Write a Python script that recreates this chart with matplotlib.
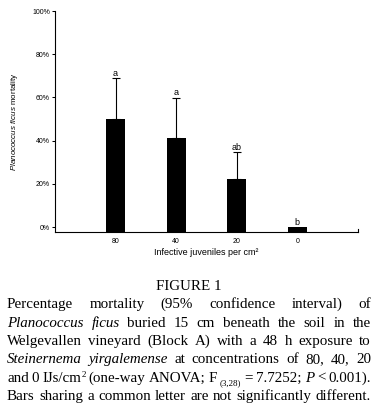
import matplotlib
matplotlib.use("Agg")
import matplotlib.pyplot as plt
from matplotlib.transforms import IdentityTransform

# ---- data ----
categories = ["80", "40", "20", "0"]
mortality = [50.0, 41.0, 22.2, 0.0]
ci_upper = [18.8, 18.9, 12.4, 0.0]
letters = ["a", "a", "ab", "b"]
yticks = [0, 20, 40, 60, 80, 100]
ytick_labels = ["0%", "20%", "40%", "60%", "80%", "100%"]

W, H, DPI = 381, 407, 100
plt.rcParams["font.family"] = ["Liberation Sans", "DejaVu Sans"]
plt.rcParams["mathtext.fontset"] = "custom"
plt.rcParams["mathtext.rm"] = "Liberation Sans"
plt.rcParams["mathtext.it"] = "Liberation Sans:italic"

fig = plt.figure(figsize=(W / DPI, H / DPI), dpi=DPI)
ax = fig.add_axes([55 / W, 1 - 232 / H, (358 - 55) / W, (232 - 11) / H])

ymin = -2.3
x = list(range(len(categories)))
heights = [m - ymin for m in mortality]
ax.bar(x, heights, bottom=ymin, width=0.31, color="black", zorder=2)
ax.errorbar(x[:3], mortality[:3], yerr=[[0] * 3, ci_upper[:3]], fmt="none",
            ecolor="black", elinewidth=0.8, capsize=2.6, capthick=0.8, zorder=3)
for xi, m, e, l in zip(x, mortality, ci_upper, letters):
    ax.annotate(l, (xi, m + e), xytext=(0, 1.6), textcoords="offset points",
                ha="center", va="baseline", fontsize=6.5)

ax.set_xlim(-1, 4)
ax.set_ylim(ymin, 100)
ax.set_yticks(yticks)
ax.set_yticklabels(ytick_labels, fontsize=5)
ax.set_xticks(x)
ax.set_xticklabels(categories, fontsize=5)
ax.tick_params(axis="y", length=2.2, width=0.75, pad=1.5, direction="out")
ax.tick_params(axis="x", length=0, pad=4.3)
for s in ["top", "right"]:
    ax.spines[s].set_visible(False)
for s in ["left", "bottom"]:
    ax.spines[s].set_linewidth(0.8)
ax.plot([1, 1], [0, 0.014], transform=ax.transAxes, color="black", lw=0.8, clip_on=False)

ax.set_ylabel(r"$\it{Planococcus\ ficus}$ mortality", fontsize=5.8)
ax.yaxis.set_label_coords((20 - 55) / 303, 0.5)
ax.set_xlabel("Infective juveniles per cm²", fontsize=6.5, va="top")
ax.xaxis.set_label_coords(0.5, -0.072)

# ---- caption ----
FS = 10.8
SERIF = "Liberation Serif"
renderer = fig.canvas.get_renderer()
idt = IdentityTransform()

def px(y_top):
    return H - y_top

def draw_line(words, base_top, x0=7, x1=371, justify=True):
    items = []
    for w in words:
        pieces = []
        for s, kw, dy in w:
            kw2 = dict(fontsize=FS, family=SERIF)
            kw2.update(kw)
            t = fig.text(0, 0, s, transform=idt, ha="left", va="baseline", **kw2)
            wd = t.get_window_extent(renderer).width
            pieces.append((t, wd, dy))
        items.append(pieces)
    widths = [sum(p[1] for p in pcs) for pcs in items]
    total = sum(widths)
    n = len(items)
    gap = (x1 - x0 - total) / (n - 1) if (justify and n > 1) else 3.5
    xx = x0
    for pcs in items:
        for t, wd, dy in pcs:
            t.set_position((xx, px(base_top) + dy))
            xx += wd
        xx += gap

def plain(line):
    return [[(w, {}, 0)] for w in line.split()]

def ital(line):
    return [[(w, {"style": "italic"}, 0)] for w in line.split()]

fig.text(188.5, px(289.5), "FIGURE 1", transform=idt, ha="center", va="baseline",
         fontsize=FS, family=SERIF)

draw_line(plain("Percentage mortality (95% confidence interval) of"), 308.3)
draw_line(ital("Planococcus ficus") + plain("buried 15 cm beneath the soil in the"), 326.6)
draw_line(plain("Welgevallen vineyard (Block A) with a 48 h exposure to"), 344.9)
draw_line(ital("Steinernema yirgalemense") + plain("at concentrations of 80, 40, 20"), 363.2)
line5 = (plain("and 0")
         + [[("IJs/cm", {}, 0), ("2", {"fontsize": 6.5}, 4.5)]]
         + plain("(one-way ANOVA; F")
         + [[("(3,28)", {"fontsize": 6.5}, -3.5)]]
         + plain("= 7.7252;")
         + ital("P")
         + plain("< 0.001)."))
draw_line(line5, 381.5)
draw_line(plain("Bars sharing a common letter are not significantly different."), 399.8)

fig.savefig("out.png", dpi=DPI)
